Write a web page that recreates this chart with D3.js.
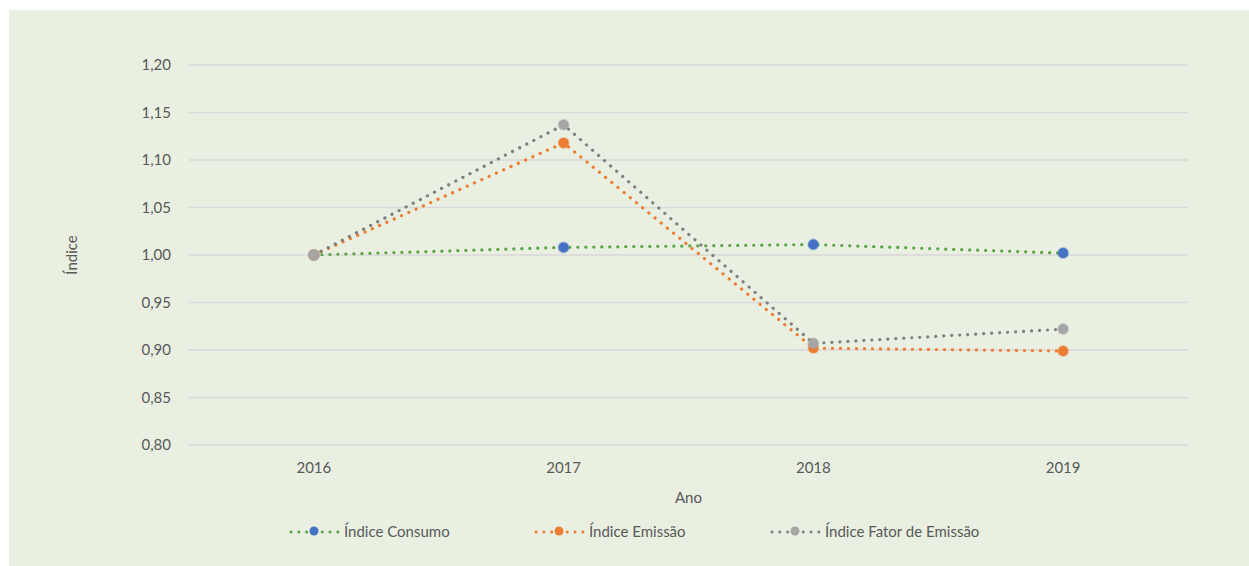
<!DOCTYPE html>
<html>
<head>
<meta charset="utf-8">
<script src="https://cdn.jsdelivr.net/npm/d3@7"></script>
<style>
  body { margin: 0; background: #ffffff; }
  text { font-family: Lato, "Open Sans", sans-serif; fill: #595959; }
</style>
</head>
<body>
<svg id="chart"></svg>
<script>
// Data
const years = ["2016", "2017", "2018", "2019"];
const consumo = [1.000, 1.008, 1.011, 1.002];
const emissao = [1.000, 1.118, 0.902, 0.899];
const fator = [1.000, 1.137, 0.907, 0.922];
const yTicks = [0.80, 0.85, 0.90, 0.95, 1.00, 1.05, 1.10, 1.15, 1.20];

const series = [
    {name: "Índice Consumo", values: consumo, line: "#5aa644", marker: "#4472c4"},
    {name: "Índice Emissão", values: emissao, line: "#ed7d31", marker: "#ed7d31"},
    {name: "Índice Fator de Emissão", values: fator, line: "#7f7f7f", marker: "#a5a5a5"}
];

const width = 1249;
const height = 566;
const margin = {top: 65, right: 61, bottom: 121, left: 189};

const svg = d3.select("#chart")
    .attr("width", width)
    .attr("height", height);

// Panel background
svg.append("rect")
    .attr("x", 9)
    .attr("y", 10)
    .attr("width", width - 9)
    .attr("height", height - 10)
    .attr("fill", "#e9f0e2");

const x = d3.scaleBand()
    .domain(years)
    .range([margin.left, width - margin.right]);

const y = d3.scaleLinear()
    .domain([0.80, 1.20])
    .range([height - margin.bottom, margin.top]);

// Gridlines
svg.append("g")
    .selectAll("line")
    .data(yTicks)
    .enter()
    .append("line")
    .attr("x1", margin.left)
    .attr("x2", width - margin.right)
    .attr("y1", d => y(d))
    .attr("y2", d => y(d))
    .attr("stroke", "#d9d9d9")
    .attr("stroke-width", 1.5);

// Y axis
const fmt = d => d.toFixed(2).replace(".", ",");
const yAxis = svg.append("g")
    .attr("transform", `translate(${margin.left - 15},0)`)
    .call(d3.axisLeft(y).tickValues(yTicks).tickFormat(fmt).tickSize(0));
yAxis.select(".domain").remove();
yAxis.selectAll("text")
    .style("font-size", "15px")
    .style("fill", "#595959")
    .style("font-family", "Lato, 'Open Sans', sans-serif");

// X axis
const xAxis = svg.append("g")
    .attr("transform", `translate(0,${height - margin.bottom + 14})`)
    .call(d3.axisBottom(x).tickSize(0));
xAxis.select(".domain").remove();
xAxis.selectAll("text")
    .style("font-size", "15px")
    .style("fill", "#595959")
    .style("font-family", "Lato, 'Open Sans', sans-serif");

// Axis labels
svg.append("text")
    .attr("x", (margin.left + width - margin.right) / 2)
    .attr("y", 503)
    .style("text-anchor", "middle")
    .style("font-size", "15px")
    .text("Ano");

svg.append("text")
    .attr("transform", "rotate(-90)")
    .attr("x", -255)
    .attr("y", 77)
    .style("text-anchor", "middle")
    .style("font-size", "15px")
    .text("Índice");

// Lines and markers
const line = d3.line()
    .x((d, i) => x(years[i]) + x.bandwidth() / 2)
    .y(d => y(d));

series.forEach(s => {
    svg.append("path")
        .datum(s.values)
        .attr("fill", "none")
        .attr("stroke", s.line)
        .attr("stroke-width", 3.2)
        .attr("stroke-linecap", "round")
        .attr("stroke-dasharray", "0.1 7.9")
        .attr("d", line);

    svg.append("g")
        .selectAll("circle")
        .data(s.values)
        .enter()
        .append("circle")
        .attr("cx", (d, i) => x(years[i]) + x.bandwidth() / 2)
        .attr("cy", d => y(d))
        .attr("r", 5)
        .attr("fill", s.marker)
        .attr("stroke", s.marker)
        .attr("stroke-opacity", 0.4)
        .attr("stroke-width", 2);
});

// Legend
const legendX = [291, 536, 772];
series.forEach((s, i) => {
    const g = svg.append("g")
        .attr("transform", `translate(${legendX[i]},532)`);
    g.append("line")
        .attr("x1", 0)
        .attr("x2", 47)
        .attr("y1", 0)
        .attr("y2", 0)
        .attr("stroke", s.line)
        .attr("stroke-width", 3)
        .attr("stroke-linecap", "round")
        .attr("stroke-dasharray", "0.1 7.7");
    g.append("circle")
        .attr("cx", 23)
        .attr("cy", -1)
        .attr("r", 4.5)
        .attr("fill", s.marker);
    g.append("text")
        .attr("x", 53)
        .attr("y", 5)
        .style("font-size", "15px")
        .text(s.name);
});
</script>
</body>
</html>
